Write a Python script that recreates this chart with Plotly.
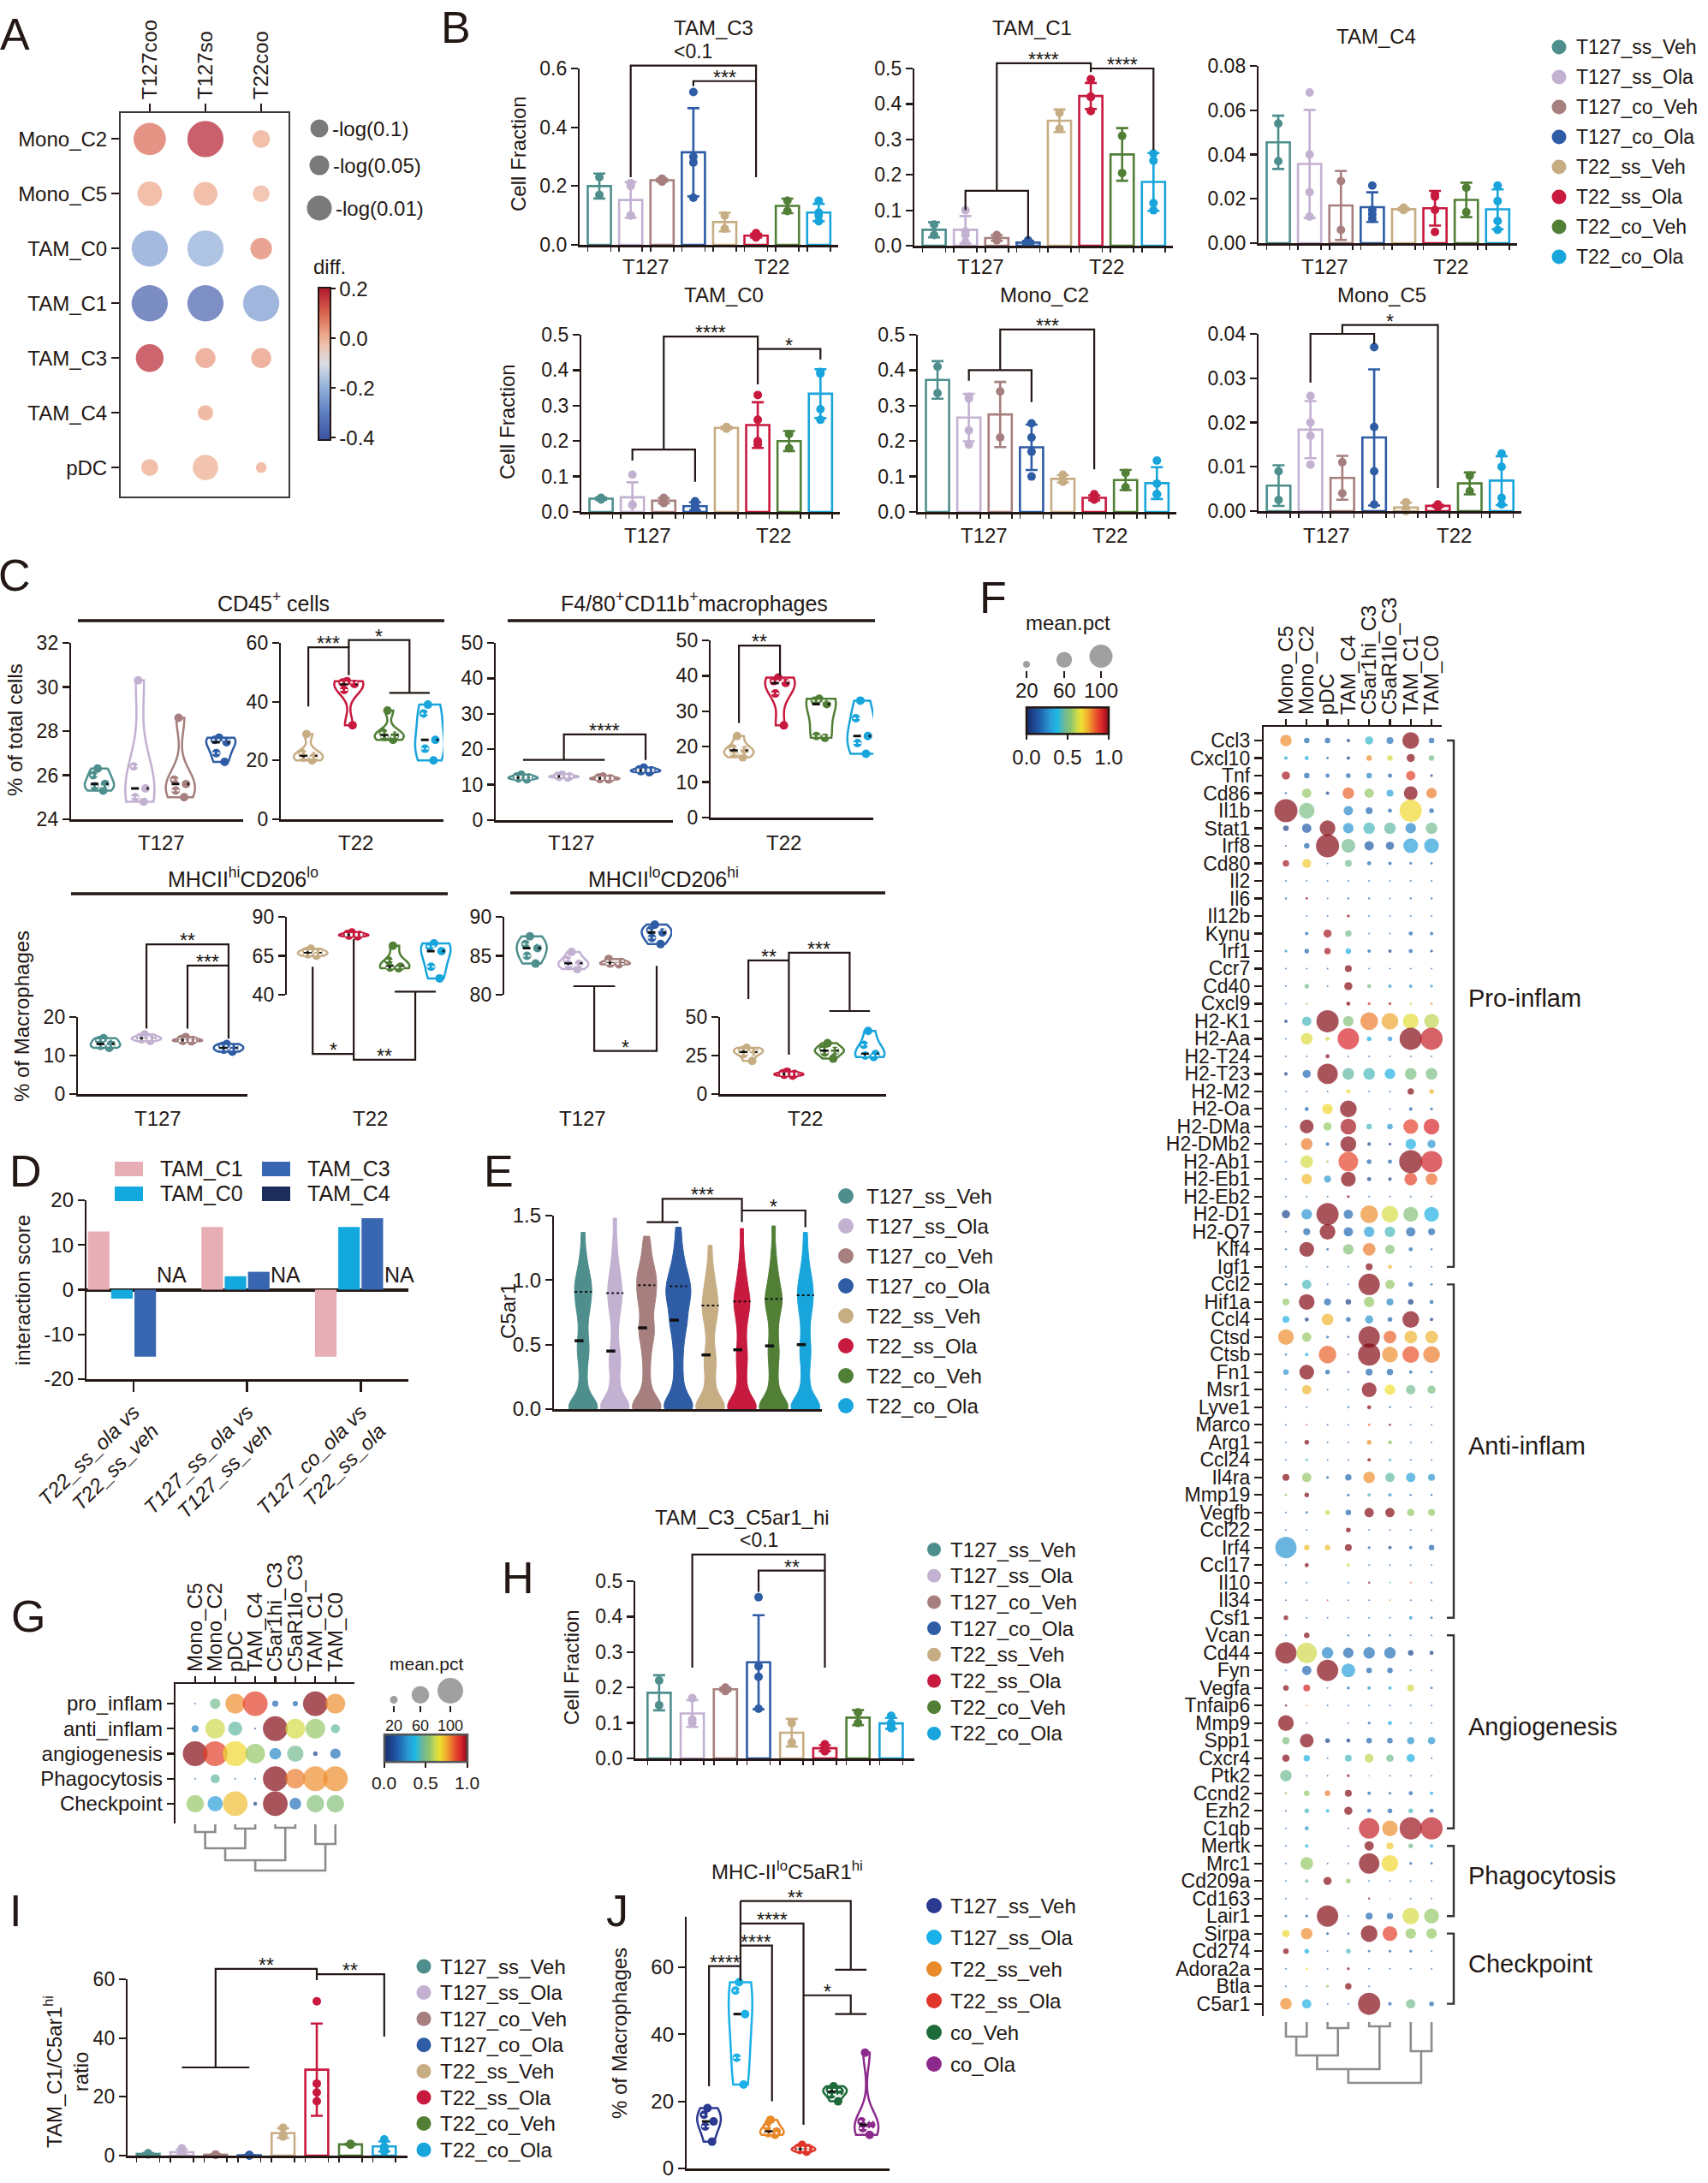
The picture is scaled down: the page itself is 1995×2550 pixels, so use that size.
import numpy as np
import plotly.graph_objects as go

W, H = 1995, 2550
FONT = "Liberation Sans, Arial, Helvetica, sans-serif"
INK = "#231815"

# ============================ DATA ============================
GROUPS = ["T127_ss_Veh", "T127_ss_Ola", "T127_co_Veh", "T127_co_Ola",
          "T22_ss_Veh", "T22_ss_Ola", "T22_co_Veh", "T22_co_Ola"]
GROUP_COLORS = ["#4E8F8E", "#C3B1D1", "#A67F7E", "#2E5CA5",
                "#C7AD84", "#C8193F", "#517F36", "#18A5DC"]
TUMOR_LABELS = ["T127", "T22"]

# ---- Panel A ----
A_clusters = ["Mono_C2", "Mono_C5", "TAM_C0", "TAM_C1", "TAM_C3", "TAM_C4", "pDC"]
A_contrasts = ["T127coo", "T127so", "T22coo"]
A_diff = [[0.10, 0.20, 0.02], [0.02, 0.02, 0.00], [-0.24, -0.21, 0.07],
          [-0.38, -0.37, -0.25], [0.19, 0.04, 0.04], [None, 0.03, None], [0.02, 0.01, 0.02]]
A_neglogp = [[4.2, 4.7, 2.3], [3.2, 3.1, 2.2], [4.7, 4.7, 2.8],
             [4.7, 4.7, 4.7], [3.6, 2.6, 2.6], [None, 2.0, None], [2.2, 3.3, 1.4]]
A_legend_labels = ["-log(0.1)", "-log(0.05)", "-log(0.01)"]

# ---- Panel B (cell fractions per sample) ----
B_TAM_C3 = [[0.23, 0.17], [0.21, 0.20, 0.10, 0.10], [0.225, 0.22, 0.215], [0.52, 0.30, 0.28, 0.16],
            [0.10, 0.055], [0.04, 0.03, 0.025, 0.03], [0.15, 0.115], [0.15, 0.11, 0.10, 0.08]]
B_TAM_C1 = [[0.06, 0.03], [0.10, 0.04, 0.03, 0.01], [0.03, 0.02, 0.015], [0.015, 0.01, 0.005, 0.005],
            [0.375, 0.33], [0.47, 0.42, 0.42, 0.38], [0.31, 0.205], [0.26, 0.24, 0.12, 0.10]]
B_TAM_C4 = [[0.054, 0.037], [0.068, 0.040, 0.023, 0.012], [0.028, 0.006], [0.026, 0.015, 0.013, 0.011],
            [0.016, 0.015, 0.015], [0.022, 0.021, 0.015, 0.005], [0.025, 0.014], [0.026, 0.019, 0.010, 0.006]]
B_TAM_C0 = [[0.04, 0.035], [0.105, 0.02, 0.02, 0.02], [0.04, 0.03, 0.025], [0.03, 0.02, 0.01, 0.005],
            [0.24, 0.235], [0.33, 0.26, 0.20, 0.19], [0.22, 0.18], [0.395, 0.39, 0.29, 0.26]]
B_Mono_C2 = [[0.41, 0.335], [0.325, 0.32, 0.23, 0.19], [0.34, 0.21], [0.25, 0.21, 0.17, 0.10],
             [0.105, 0.09, 0.085], [0.05, 0.04, 0.035, 0.035], [0.11, 0.07], [0.145, 0.08, 0.05, 0.05]]
B_Mono_C5 = [[0.009, 0.0025], [0.026, 0.020, 0.017, 0.0105], [0.011, 0.004], [0.037, 0.019, 0.009, 0.0015],
             [0.002, 0.0005, 0.0], [0.0015, 0.0012, 0.001, 0.001], [0.008, 0.0045], [0.013, 0.010, 0.003, 0.0015]]

# ---- Panel C (flow cytometry, %) ----
C_CD45_T127 = [[26.3, 26.0, 25.6, 25.5, 25.3], [30.3, 26.4, 25.4, 25.0, 24.8],
               [28.6, 25.8, 25.6, 25.3, 25.0], [27.7, 27.6, 27.5, 27.0, 26.6]]
C_CD45_T22 = [[29, 22.5, 21.5, 21, 20], [47, 46.5, 46, 44, 32], [37, 29.5, 28.5, 28, 27], [39, 36, 27, 24, 20]]
C_F480_T127 = [[12.8, 12.3, 12.0, 11.8, 11.5], [12.8, 12.5, 12.3, 12.2, 12.0],
               [12.3, 12.0, 11.8, 11.6, 11.5], [14.8, 14.3, 14.0, 13.8, 13.5]]
C_F480_T22 = [[23, 19.5, 19, 18, 17], [39.5, 38.5, 38, 35, 26], [33.5, 33, 32, 23, 22.5], [33, 28, 23, 21, 18]]
C_MHChi_T127 = [[14.5, 14, 13, 12.5, 12], [15.5, 14.8, 14.5, 14.2, 13.8],
                [14.8, 14.3, 14, 13.8, 13.7], [13, 12.5, 12, 11.5, 11]]
C_MHChi_T22 = [[69.5, 68, 67, 66, 65], [80, 79, 78.5, 78, 77.5], [71.5, 62, 58, 57.5, 57], [73, 71, 68, 58, 50.5]]
C_MHClo_T127 = [[87.5, 86.5, 86, 85, 84], [85.5, 84.5, 84, 83.8, 83.3], [84.6, 84.2, 84, 83.9], [89, 88.3, 88, 87.3, 86.5]]
C_MHClo_T22 = [[30, 28.5, 27.5, 26, 21.5], [14.5, 13.5, 13, 12.5, 12], [33, 29.5, 28, 27, 23], [41, 32, 26, 25, 24]]

# ---- Panel D ----
D_comparisons = ["T22_ss_ola vs<br>T22_ss_veh", "T127_ss_ola vs<br>T127_ss_veh", "T127_co_ola vs<br>T22_ss_ola"]
D_series = ["TAM_C1", "TAM_C0", "TAM_C3", "TAM_C4"]
D_colors = ["#E8AEB5", "#14A9DE", "#3866B0", "#1C2D5C"]
D_TAM_C1 = [13, 14, -15]
D_TAM_C0 = [-2, 3, 14]
D_TAM_C3 = [-15, 4, 16]
D_TAM_C4 = [None, None, None]

# ---- Panel E (C5ar1 expression; representative sorted cell values per group) ----
E_C5ar1 = [
    [0, 0, 0, 0, 0, 0.01, 0.02, 0.05, 0.1, 0.18, 0.26, 0.34, 0.41, 0.46, 0.5, 0.56, 0.63, 0.7, 0.76, 0.8,
     0.84, 0.88, 0.92, 0.95, 0.98, 1.02, 1.07, 1.13, 1.22, 1.37],
    [0, 0, 0, 0, 0, 0.01, 0.02, 0.04, 0.08, 0.14, 0.2, 0.27, 0.33, 0.38, 0.42, 0.48, 0.57, 0.66, 0.73, 0.79,
     0.83, 0.87, 0.91, 0.95, 0.99, 1.04, 1.1, 1.18, 1.3, 1.48],
    [0, 0, 0, 0, 0.01, 0.02, 0.05, 0.1, 0.18, 0.28, 0.38, 0.46, 0.53, 0.58, 0.61, 0.65, 0.71, 0.77, 0.82, 0.86,
     0.89, 0.93, 0.97, 1.0, 1.03, 1.07, 1.11, 1.17, 1.25, 1.34],
    [0, 0, 0, 0.01, 0.02, 0.05, 0.1, 0.16, 0.24, 0.33, 0.42, 0.5, 0.57, 0.63, 0.67, 0.71, 0.76, 0.8, 0.84, 0.87,
     0.9, 0.93, 0.96, 0.99, 1.03, 1.07, 1.12, 1.19, 1.28, 1.41],
    [0, 0, 0, 0, 0, 0.01, 0.02, 0.04, 0.08, 0.13, 0.19, 0.25, 0.31, 0.36, 0.4, 0.44, 0.52, 0.6, 0.66, 0.71,
     0.75, 0.78, 0.81, 0.85, 0.89, 0.93, 0.98, 1.04, 1.13, 1.27],
    [0, 0, 0, 0, 0, 0.01, 0.02, 0.04, 0.08, 0.14, 0.2, 0.27, 0.33, 0.39, 0.43, 0.49, 0.56, 0.63, 0.69, 0.74,
     0.78, 0.82, 0.84, 0.88, 0.92, 0.97, 1.03, 1.1, 1.22, 1.4],
    [0, 0, 0, 0, 0, 0.01, 0.02, 0.04, 0.09, 0.15, 0.22, 0.29, 0.36, 0.42, 0.46, 0.52, 0.59, 0.66, 0.72, 0.77,
     0.81, 0.84, 0.86, 0.9, 0.94, 0.99, 1.05, 1.12, 1.24, 1.42],
    [0, 0, 0, 0, 0, 0.01, 0.02, 0.04, 0.09, 0.15, 0.22, 0.3, 0.37, 0.43, 0.47, 0.53, 0.6, 0.67, 0.73, 0.78,
     0.82, 0.86, 0.89, 0.93, 0.97, 1.01, 1.06, 1.13, 1.23, 1.37],
]

# ---- Panel F ----
F_clusters = ["Mono_C5", "Mono_C2", "pDC", "TAM_C4", "C5ar1hi_C3", "C5aR1lo_C3", "TAM_C1", "TAM_C0"]
F_genes = ["Ccl3", "Cxcl10", "Tnf", "Cd86", "Il1b", "Stat1", "Irf8", "Cd80", "Il2", "Il6", "Il12b", "Kynu",
           "Irf1", "Ccr7", "Cd40", "Cxcl9", "H2-K1", "H2-Aa", "H2-T24", "H2-T23", "H2-M2", "H2-Oa", "H2-DMa",
           "H2-DMb2", "H2-Ab1", "H2-Eb1", "H2-Eb2", "H2-D1", "H2-Q7", "Klf4", "Igf1",
           "Ccl2", "Hif1a", "Ccl4", "Ctsd", "Ctsb", "Fn1", "Msr1", "Lyve1", "Marco", "Arg1", "Ccl24", "Il4ra",
           "Mmp19", "Vegfb", "Ccl22", "Irf4", "Ccl17", "Il10", "Il34", "Csf1",
           "Vcan", "Cd44", "Fyn", "Vegfa", "Tnfaip6", "Mmp9", "Spp1", "Cxcr4", "Ptk2", "Ccnd2", "Ezh2", "C1qb",
           "Mertk", "Mrc1", "Cd209a", "Cd163", "Lair1", "Sirpa", "Cd274", "Adora2a", "Btla", "C5ar1"]
F_expr = [
    [.78, .18, .18, .08, .40, .20, 1.0, .18], [.33, .35, .18, .08, .78, .62, 1.0, .48],
    [.97, .18, .18, .18, .25, .15, .88, .08], [.18, .55, .08, .83, .55, .30, 1.0, .80],
    [1.0, .50, .18, .25, .18, .18, .68, .18], [.08, .15, 1.0, .28, .42, .45, .25, .48],
    [.08, .18, 1.0, .48, .15, .15, .30, .30], [.97, .70, .18, .48, .18, .18, .18, .18],
    [.18, .18, .18, .18, .18, .18, .18, .18], [.18, 1.0, .18, .18, .18, .18, .18, .18],
    [.18, .18, .18, 1.0, .18, .18, .18, .18], [.18, .18, .97, .48, .18, .18, .18, .18],
    [.28, .18, .97, .35, .18, .08, .18, .08], [.18, .18, .18, 1.0, .18, .18, .18, .18],
    [.18, .48, .18, 1.0, .50, .28, .28, .28], [.18, .55, .18, 1.0, .90, .97, .62, .78],
    [.08, .42, 1.0, .52, .80, .75, .65, .60], [.18, .64, .62, .92, .35, .28, 1.0, .94],
    [.18, .18, 1.0, .18, .18, .18, .18, .18], [.08, .18, 1.0, .45, .42, .35, .50, .50],
    [.18, .18, .18, .68, .18, .18, 1.0, .73], [.18, .18, .68, 1.0, .18, .18, .18, .18],
    [.18, 1.0, .55, .97, .42, .28, .88, .92], [.18, .80, .18, 1.0, .08, .08, .35, .28],
    [.18, .63, .55, .87, .18, .18, 1.0, .93], [.18, .72, .28, 1.0, .08, .08, .87, .82],
    [.18, .18, .18, 1.0, .18, .18, .18, .18], [.08, .28, 1.0, .18, .78, .63, .52, .35],
    [.18, .18, 1.0, .18, .30, .42, .18, .18], [.18, 1.0, .18, .52, .80, .52, .18, .18],
    [.18, .18, .18, .18, 1.0, .73, .18, .18],
    [.18, .42, .18, .18, 1.0, .55, .18, .18], [.55, 1.0, .18, .08, .55, .25, .08, .18],
    [.35, .08, .73, .18, .28, .18, 1.0, .08], [.78, .55, .18, .08, 1.0, .83, .73, .73],
    [.18, .35, .83, .18, 1.0, .78, .85, .80], [.28, 1.0, .18, .08, .18, .18, .18, .18],
    [.18, .73, .18, .18, 1.0, .67, .48, .50], [.18, .18, .18, .18, 1.0, .18, .18, .18],
    [.18, .88, .18, .18, .83, 1.0, .18, .18], [.18, 1.0, .18, .18, .78, .55, .18, .18],
    [.18, .42, .18, .18, 1.0, .42, .18, .18], [1.0, .55, .18, .18, .78, .45, .30, .28],
    [.55, 1.0, .18, .18, .42, .28, .18, .18], [.18, .18, .62, .18, 1.0, 1.0, .55, .55],
    [.18, .18, .18, 1.0, .18, .18, .18, .18], [.28, .72, .72, 1.0, .18, .08, .18, .18],
    [.18, 1.0, .18, .62, .18, .18, .18, .18], [.18, .18, .18, .18, 1.0, .42, .83, .18],
    [.18, .18, .88, .18, .18, .78, .18, .18], [1.0, .18, .18, .18, .18, .18, .28, .18],
    [.18, 1.0, .18, .18, .18, .18, .18, .18], [1.0, .62, .25, .18, .20, .20, .08, .08],
    [.18, .18, 1.0, .30, .18, .18, .18, .18], [1.0, .93, .18, .18, .28, .35, .62, .18],
    [1.0, .78, .18, .18, .18, .18, .18, .18], [1.0, .18, .18, .18, .18, .35, .18, .18],
    [.50, 1.0, .08, .08, .18, .18, .28, .28], [1.0, .35, .18, .42, .60, .48, .35, .08],
    [.47, .18, .18, 1.0, .55, .18, .18, .18], [.55, .55, .80, 1.0, .18, .08, .18, .35],
    [.08, .42, .35, 1.0, .18, .18, .42, .18], [.18, .28, .18, .18, .94, .78, .98, .95],
    [.18, .35, .18, .18, 1.0, .70, .48, .35], [.18, .55, .18, .18, 1.0, .68, .18, .18],
    [.18, .48, 1.0, .55, .18, .18, .18, .18], [.18, .18, .18, .18, 1.0, .55, .18, .18],
    [.18, .18, 1.0, .18, .18, .18, .63, .55], [.68, .78, .18, .08, 1.0, .88, .55, .55],
    [1.0, .35, .18, .42, .18, .18, .18, .18], [.18, .68, .18, 1.0, .18, .18, .18, .18],
    [.18, .18, .55, 1.0, .18, .18, .18, .18], [.78, .35, .18, .18, 1.0, .18, .48, .18],
]
F_pct = [
    [40, 15, 15, 8, 25, 20, 65, 15], [8, 10, 5, 8, 15, 15, 25, 15], [25, 15, 10, 12, 15, 10, 30, 6],
    [4, 30, 8, 40, 30, 20, 50, 35], [100, 60, 0, 30, 20, 10, 95, 12], [15, 30, 60, 35, 40, 40, 35, 40],
    [2, 15, 100, 50, 30, 25, 55, 55], [18, 28, 2, 20, 10, 8, 6, 5], [1, 1, 2, 1, 1, 1, 1, 1],
    [4, 5, 2, 4, 4, 3, 4, 4], [0, 1, 1, 6, 2, 1, 2, 1], [0, 8, 25, 18, 1, 1, 10, 8],
    [6, 12, 18, 15, 8, 8, 10, 6], [1, 2, 2, 20, 1, 1, 1, 1], [2, 12, 1, 25, 10, 8, 8, 6],
    [2, 4, 0, 10, 6, 6, 5, 5], [8, 30, 95, 35, 70, 65, 60, 55], [1, 40, 10, 90, 12, 12, 95, 95],
    [2, 2, 10, 2, 3, 2, 2, 2], [8, 25, 85, 40, 40, 35, 40, 40], [1, 2, 1, 10, 2, 1, 18, 12],
    [2, 10, 35, 65, 0, 1, 8, 6], [2, 50, 25, 60, 15, 15, 55, 60], [2, 40, 8, 60, 8, 6, 35, 25],
    [1, 45, 5, 80, 12, 10, 100, 90], [3, 35, 20, 55, 10, 8, 45, 40], [1, 1, 1, 6, 1, 1, 1, 1],
    [25, 35, 95, 30, 70, 65, 55, 55], [1, 20, 60, 30, 35, 35, 30, 20], [4, 55, 5, 35, 45, 30, 10, 4],
    [1, 1, 1, 1, 20, 10, 1, 1],
    [5, 30, 2, 2, 90, 30, 12, 5], [20, 60, 20, 15, 35, 20, 15, 10], [20, 10, 40, 12, 25, 12, 65, 8],
    [60, 30, 6, 4, 90, 45, 45, 45], [4, 8, 70, 2, 95, 60, 65, 65], [15, 55, 12, 4, 20, 18, 8, 5],
    [1, 30, 1, 2, 55, 35, 30, 25], [1, 2, 0, 4, 10, 4, 2, 2], [3, 3, 2, 3, 5, 5, 2, 3],
    [2, 12, 2, 2, 12, 10, 3, 3], [2, 5, 1, 3, 8, 6, 2, 2], [20, 30, 6, 18, 40, 30, 30, 20],
    [5, 12, 0, 6, 8, 8, 4, 4], [1, 5, 12, 15, 30, 30, 22, 20], [1, 1, 0, 12, 1, 1, 1, 1],
    [90, 15, 15, 20, 6, 8, 8, 15], [2, 10, 0, 8, 1, 1, 1, 1], [1, 1, 0, 1, 4, 2, 3, 1],
    [1, 1, 2, 1, 1, 3, 1, 1], [12, 3, 2, 2, 3, 3, 8, 5],
    [2, 15, 0, 4, 4, 4, 3, 3], [90, 85, 40, 35, 40, 40, 15, 10], [1, 30, 90, 50, 15, 15, 3, 2],
    [15, 20, 1, 6, 8, 8, 20, 5], [4, 2, 1, 1, 1, 1, 1, 1], [60, 2, 0, 1, 6, 10, 1, 1],
    [22, 50, 12, 10, 15, 15, 22, 22], [22, 18, 3, 20, 28, 22, 25, 3], [40, 1, 2, 6, 2, 2, 1, 1],
    [5, 15, 15, 20, 8, 5, 10, 8], [3, 12, 8, 25, 10, 12, 12, 10], [1, 10, 0, 1, 85, 60, 95, 95],
    [1, 8, 0, 1, 30, 20, 12, 8], [1, 45, 1, 2, 85, 65, 6, 5], [2, 8, 25, 12, 1, 2, 1, 1],
    [1, 1, 0, 0, 4, 2, 1, 1], [5, 6, 90, 2, 20, 18, 65, 55],
    [22, 40, 6, 4, 65, 55, 35, 35], [15, 12, 2, 12, 5, 6, 6, 3], [1, 5, 1, 6, 2, 3, 2, 2],
    [1, 1, 6, 18, 1, 0, 0, 0], [40, 30, 1, 1, 95, 8, 30, 12],
]
F_modules = [("Pro-inflam", "Ccl3", "Igf1"), ("Anti-inflam", "Ccl2", "Csf1"),
             ("Angiogenesis", "Vcan", "C1qb"), ("Phagocytosis", "Mertk", "Lair1"),
             ("Checkpoint", "Sirpa", "C5ar1")]
F_legend_pct = [20, 60, 100]

# ---- Panel G ----
G_modules = ["pro_inflam", "anti_inflam", "angiogenesis", "Phagocytosis", "Checkpoint"]
G_expr = [[.18, .48, .78, .88, .18, .18, 1.0, .78],
          [.25, .62, .45, .08, 1.0, .63, .55, .45],
          [1.0, .88, .68, .55, .25, .48, .08, .20],
          [.18, .45, .18, .18, 1.0, .80, .78, .78],
          [.55, .30, .72, .08, 1.0, .20, .52, .52]]
G_pct = [[2, 30, 70, 95, 15, 12, 95, 70],
         [18, 70, 45, 3, 95, 70, 70, 25],
         [95, 95, 95, 70, 35, 55, 10, 30],
         [2, 25, 2, 2, 95, 70, 95, 95],
         [60, 50, 95, 8, 95, 35, 60, 60]]

# ---- Panel H ----
H_TAM_C3_C5ar1_hi = [[0.22, 0.15], [0.17, 0.11, 0.10], [0.20, 0.195, 0.19], [0.455, 0.26, 0.23, 0.14],
                     [0.10, 0.045], [0.04, 0.03, 0.025, 0.02], [0.13, 0.10], [0.12, 0.10, 0.09, 0.085]]
# ---- Panel I ----
I_ratio = [[0.8, 0.4], [2.5, 1.0, 0.6, 0.5], [0.4, 0.3, 0.2], [0.2, 0.1, 0.1, 0.1],
           [9.5, 7.0, 6.5], [52.5, 24.5, 21.5, 18.5], [4.0, 3.8, 3.7], [5.5, 3.0, 2.5, 1.5]]
# ---- Panel J ----
J_groups = ["T127_ss_Veh", "T127_ss_Ola", "T22_ss_veh", "T22_ss_Ola", "co_Veh", "co_Ola"]
J_colors = ["#2B3990", "#1AB0E8", "#E8892A", "#E0352A", "#1E6B3A", "#8B2A8B"]
J_values = [[18, 16, 14, 12.5, 8], [55.5, 53, 46, 33, 25], [14.5, 12.5, 11, 10.5, 10],
            [7, 6.2, 5.8, 5.5, 5], [24.5, 23.5, 23, 22, 20], [34.5, 14, 13, 12, 10]]

# ============================ HELPERS ============================
traces, shapes, annots = [], [], []
layout_axes = {}
AXES = []

A_SCALE = [[0, '#3b4fa0'], [0.18, '#5d7fc2'], [0.344, '#93b1da'], [0.5, '#d9dde5'],
           [0.62, '#ecc2ad'], [0.69, '#eda88a'], [0.84, '#d6604d'], [1, '#b2182b']]
JET = [[0, '#1a2a6c'], [0.15, '#1f5aa8'], [0.3, '#2a9fd8'], [0.37, '#1ab8e6'], [0.46, '#6cb89a'],
       [0.54, '#8cc46c'], [0.61, '#c8d850'], [0.67, '#f0e030'], [0.76, '#f0a030'], [0.85, '#e8502a'],
       [0.92, '#d9252b'], [1, '#850b16']]


def axis_style(**kw):
    d = dict(showgrid=False, zeroline=False, showline=False, ticks='', showticklabels=False,
             linecolor=INK, linewidth=2.2, tickcolor=INK, tickwidth=2.2, ticklen=8, automargin=False,
             tickfont=dict(family=FONT, size=23, color=INK), fixedrange=True)
    d.update(kw)
    return d


class Ax:
    def __init__(self, x0, x1, y0, y1, xr, yr, xkw=None, ykw=None):
        AXES.append(self)
        n = len(AXES)
        self.xid = 'x' if n == 1 else f'x{n}'
        self.yid = 'y' if n == 1 else f'y{n}'
        self.x0, self.x1, self.y0, self.y1 = x0, x1, y0, y1
        self.xr, self.yr = xr, yr
        xa = axis_style(domain=[x0 / W, x1 / W], range=xr, anchor=self.yid)
        ya = axis_style(domain=[1 - y1 / H, 1 - y0 / H], range=yr, anchor=self.xid)
        xa.update(xkw or {})
        ya.update(ykw or {})
        layout_axes['xaxis' if n == 1 else f'xaxis{n}'] = xa
        layout_axes['yaxis' if n == 1 else f'yaxis{n}'] = ya

    def X(self, v):
        return self.x0 + (v - self.xr[0]) / (self.xr[1] - self.xr[0]) * (self.x1 - self.x0)

    def Y(self, v):
        return self.y1 - (v - self.yr[0]) / (self.yr[1] - self.yr[0]) * (self.y1 - self.y0)

    def kw(self):
        return dict(xaxis=self.xid, yaxis=self.yid)


def T(x, y, text, size=24, xanchor='center', yanchor='middle', angle=0, color=INK, **kw):
    annots.append(dict(x=x / W, y=1 - y / H, xref='paper', yref='paper', text=text, showarrow=False,
                       xanchor=xanchor, yanchor=yanchor, textangle=angle,
                       font=dict(family=FONT, size=size, color=color), **kw))


def poly(pts, color=INK, width=2.2, dash='solid'):
    d = ' '.join(('M' if i == 0 else 'L') + f'{x / W:.5f},{1 - y / H:.5f}' for i, (x, y) in enumerate(pts))
    shapes.append(dict(type='path', path=d, xref='paper', yref='paper', layer='above',
                       line=dict(color=color, width=width, dash=dash)))


def circle(xc, yc, d, color):
    r = d / 2
    shapes.append(dict(type='circle', xref='paper', yref='paper', x0=(xc - r) / W, x1=(xc + r) / W,
                       y0=1 - (yc + r) / H, y1=1 - (yc - r) / H, fillcolor=color, line=dict(width=0)))


def rect(x0, y0, x1, y1, color):
    shapes.append(dict(type='rect', xref='paper', yref='paper', x0=x0 / W, x1=x1 / W,
                       y0=1 - y1 / H, y1=1 - y0 / H, fillcolor=color, line=dict(width=0)))


def bracket(pts, label=None, at=None, size=23, star=True):
    poly([(a.X(x), a.Y(y)) for a, x, y in pts], width=2.2)
    if label:
        a, x, y = at
        if star:
            T(a.X(x), a.Y(y) - 4, label, size=size, yanchor='middle')
        else:
            T(a.X(x), a.Y(y) - 2, label, size=size, yanchor='bottom')


def ticks_fmt(vals, fmt):
    return dict(tickvals=vals, ticktext=[fmt.format(v) for v in vals])


def gp_y(vals, fmt, size=23):
    d = dict(showline=True, ticks='outside', showticklabels=True, tickfont=dict(family=FONT, size=size, color=INK))
    d.update(ticks_fmt(vals, fmt))
    return d


def bar_panel(ax, data, colors, width):
    for i, (pts, c) in enumerate(zip(data, colors)):
        pts = np.asarray(pts, float)
        m = pts.mean()
        sd = pts.std(ddof=1) if len(pts) > 1 else 0.0
        traces.append(go.Bar(x=[i], y=[m], width=width,
                             marker=dict(color='rgba(255,255,255,0)', line=dict(color=c, width=2.6)),
                             error_y=dict(type='data', array=[sd], arrayminus=[sd], color=c, thickness=2.6, width=7),
                             hoverinfo='skip', **ax.kw()))
        traces.append(go.Scatter(x=[i] * len(pts), y=pts, mode='markers', cliponaxis=False,
                                 marker=dict(color=c, size=10), hoverinfo='skip', **ax.kw()))


def bar_axes(x0, x1, y0, y1, xr, ymax, yt, fmt, width):
    edges = sorted([i - width / 2 for i in range(8)] + [i + width / 2 for i in range(8)])
    return Ax(x0, x1, y0, y1, xr, [0, ymax],
              xkw=dict(showline=True, linewidth=3.4, ticks='outside', ticklen=5, tickwidth=1.6, tickvals=edges),
              ykw=gp_y(yt, fmt))


def violin(ax, i, vals, color, width=0.72, fill='rgba(255,255,255,0)', points=True, bw=None, lw=2.5,
           qcolor=None, msize=10, q1line=True, mwidth=3):
    vals = np.asarray(vals, float)
    kw = dict(x=[i] * len(vals), y=vals, width=width, line=dict(color=color, width=lw), fillcolor=fill,
              spanmode='hard', hoverinfo='skip', showlegend=False)
    if points:
        kw.update(points='all', pointpos=0, jitter=0.5, marker=dict(color=color, size=msize))
    else:
        kw.update(points=False)
    if bw:
        kw['bandwidth'] = bw
    traces.append(go.Violin(**kw, **ax.kw()))
    med = float(np.median(vals))
    q1, q3 = np.percentile(vals, [25, 75])
    h = width * 0.3
    traces.append(go.Scatter(x=[i - h, i + h], y=[med, med], mode='lines', hoverinfo='skip',
                             line=dict(color='#111111', width=mwidth, dash='dash'), **ax.kw()))
    for q in ((q1, q3) if q1line else (q3,)):
        traces.append(go.Scatter(x=[i - h, i + h], y=[q, q], mode='lines', hoverinfo='skip',
                                 line=dict(color=qcolor or color, width=2, dash='dot'), **ax.kw()))


def dendro(ax, merges, leaf_y, color='#8c8c8c', width=2.6):
    nodes = {i: (ax.X(i), leaf_y) for i in range(8)}
    k = 8
    for a, b, h in merges:
        xa, ya = nodes[a]
        xb, yb = nodes[b]
        poly([(xa, ya), (xa, h), (xb, h), (xb, yb)], color=color, width=width)
        nodes[k] = ((xa + xb) / 2, h)
        k += 1


def legend_list(x, y0, dy, labels, colors, d=17, size=24, gap=18):
    for k, (lab, c) in enumerate(zip(labels, colors)):
        circle(x, y0 + k * dy, d, c)
        T(x + gap, y0 + k * dy, lab, size=size, xanchor='left')


# Panel letters
for letter, (lx, ly) in {"A": (17, 40), "B": (532, 32), "C": (17, 672), "D": (30, 1368), "E": (582, 1368),
                         "F": (1160, 698), "G": (33, 1888), "H": (605, 1843), "I": (18, 2232), "J": (721, 2232)}.items():
    T(lx, ly, letter, size=52)

# ============================ PANEL A ============================
axA = Ax(141, 337, 132, 580, [-0.52, 2.49], [6.53, -0.475],
         xkw=dict(side='top', showline=True, mirror=True, linecolor='#3a3a3a', linewidth=2, ticks='outside',
                  ticklen=9, tickvals=list(range(len(A_contrasts))), ticktext=A_contrasts, showticklabels=True,
                  tickangle=-90, tickfont=dict(family=FONT, size=24, color=INK)),
         ykw=dict(showline=True, mirror=True, linecolor='#3a3a3a', linewidth=2, ticks='outside', ticklen=9,
                  tickvals=list(range(len(A_clusters))), ticktext=A_clusters, showticklabels=True,
                  tickfont=dict(family=FONT, size=24, color=INK)))
ax_x, ax_y, ax_c, ax_s = [], [], [], []
for r in range(len(A_clusters)):
    for c in range(len(A_contrasts)):
        if A_diff[r][c] is None:
            continue
        ax_x.append(c)
        ax_y.append(r)
        ax_c.append(A_diff[r][c])
        ax_s.append(9 * A_neglogp[r][c])
traces.append(go.Scatter(
    x=ax_x, y=ax_y, mode='markers', hoverinfo='skip', cliponaxis=False,
    marker=dict(size=ax_s, sizemode='diameter', color=ax_c, colorscale=A_SCALE, cmin=-0.41, cmax=0.205,
                line=dict(width=0), showscale=True,
                colorbar=dict(x=372 / W, xanchor='left', y=1 - 425 / H, yanchor='middle', len=178, lenmode='pixels',
                              thickness=14, thicknessmode='pixels', xpad=0, ypad=0, outlinewidth=2, outlinecolor=INK,
                              tickvals=[-0.4, -0.2, 0, 0.2], ticktext=['-0.4', '-0.2', '0.0', '0.2'],
                              ticks='outside', ticklen=5, tickcolor=INK, tickwidth=2,
                              tickfont=dict(family=FONT, size=24, color=INK))),
    **axA.kw()))
for k, (lab, d, yy) in enumerate(zip(A_legend_labels, [21, 23, 29], [150, 193, 243])):
    circle(373, yy, d, '#7a7a7a')
    T(373 + d / 2 + 2, yy, lab, size=24, xanchor='left')
T(364, 312, "diff.", size=24, xanchor='left')

# ============================ PANEL B ============================
B_XR = [-0.63, 7.62]
B_W = 0.74
B_specs = [
    ("TAM_C3", B_TAM_C3, 677, 979, 80, 286, 0.6, [0, 0.2, 0.4, 0.6], '{:.1f}', (833, 33), 312),
    ("TAM_C1", B_TAM_C1, 1068, 1370, 80, 287, 0.5, [0, 0.1, 0.2, 0.3, 0.4, 0.5], '{:.1f}', (1205, 33), 312),
    ("TAM_C4", B_TAM_C4, 1470, 1772, 77, 284, 0.08, [0, 0.02, 0.04, 0.06, 0.08], '{:.2f}', (1607, 42), 312),
    ("TAM_C0", B_TAM_C0, 679, 981, 391, 598, 0.5, [0, 0.1, 0.2, 0.3, 0.4, 0.5], '{:.1f}', (845, 345), 625),
    ("Mono_C2", B_Mono_C2, 1072, 1374, 391, 598, 0.5, [0, 0.1, 0.2, 0.3, 0.4, 0.5], '{:.1f}', (1220, 345), 625),
    ("Mono_C5", B_Mono_C5, 1470, 1777, 390, 597, 0.04, [0, 0.01, 0.02, 0.03, 0.04], '{:.2f}', (1614, 345), 625),
]
B_ax = {}
for title, data, x0, x1, y0, y1, ymax, yt, fmt, (tx, ty), gy in B_specs:
    ax = bar_axes(x0, x1, y0, y1, B_XR, ymax, yt, fmt, B_W)
    B_ax[title] = ax
    bar_panel(ax, data, GROUP_COLORS, B_W)
    T(tx, ty, title, size=24)
    T(ax.X(1.5), gy, TUMOR_LABELS[0], size=24)
    T(ax.X(5.5), gy, TUMOR_LABELS[1], size=24)
T(606, 180, "Cell Fraction", size=24, angle=-90)
T(592, 493, "Cell Fraction", size=24, angle=-90)
legend_list(1821, 55, 35, GROUPS, GROUP_COLORS, d=17, size=23, gap=18)

a = B_ax["TAM_C3"]
bracket([(a, 1, 0.23), (a, 1, 0.61), (a, 5, 0.61), (a, 5, 0.23)], "&lt;0.1", (a, 3, 0.61), star=False)
bracket([(a, 3, 0.54), (a, 3, 0.557), (a, 5, 0.557)], "***", (a, 4, 0.557))
a = B_ax["TAM_C1"]
bracket([(a, 1, 0.10), (a, 1, 0.155), (a, 3, 0.155), (a, 3, 0.02)])
bracket([(a, 2, 0.155), (a, 2, 0.515), (a, 5, 0.515), (a, 5, 0.49)], "****", (a, 3.5, 0.515))
bracket([(a, 5, 0.50), (a, 7, 0.50), (a, 7, 0.27)], "****", (a, 6, 0.50))
a = B_ax["TAM_C0"]
bracket([(a, 1, 0.145), (a, 1, 0.176), (a, 3, 0.176), (a, 3, 0.085)])
bracket([(a, 2, 0.176), (a, 2, 0.495), (a, 5, 0.495), (a, 5, 0.36)], "****", (a, 3.5, 0.495))
bracket([(a, 5, 0.46), (a, 7, 0.46), (a, 7, 0.43)], "*", (a, 6, 0.46))
a = B_ax["Mono_C2"]
bracket([(a, 1, 0.37), (a, 1, 0.40), (a, 3, 0.40), (a, 3, 0.31)])
bracket([(a, 2, 0.40), (a, 2, 0.515), (a, 5, 0.515), (a, 5, 0.12)], "***", (a, 3.5, 0.515))
a = B_ax["Mono_C5"]
bracket([(a, 1, 0.029), (a, 1, 0.040), (a, 3, 0.040), (a, 3, 0.0377)])
bracket([(a, 2, 0.040), (a, 2, 0.042), (a, 5, 0.042), (a, 5, 0.0052)], "*", (a, 3.5, 0.042))

# ============================ PANEL C ============================
def c_axes(x0, x1, y0, y1, xr, yr, yt, xline=True):
    return Ax(x0, x1, y0, y1, xr, yr, xkw=dict(showline=xline, linewidth=3), ykw=gp_y(yt, '{:g}'))


c1 = c_axes(83, 284, 751, 957, [-0.70, 3.55], [24, 32], [24, 26, 28, 30, 32])
c2 = c_axes(328, 518, 751, 957, [-0.68, 3.34], [0, 60], [0, 20, 40, 60])
c3 = c_axes(579, 786, 751, 958, [-0.67, 3.67], [0, 50], [0, 10, 20, 30, 40, 50])
c4 = c_axes(830, 1020, 748, 955, [-0.69, 3.27], [0, 50], [0, 10, 20, 30, 40, 50])
c5u = c_axes(91, 289, 1071, 1162, [-0.67, 3.46], [40, 90], [40, 65, 90], xline=False)
c5l = c_axes(91, 289, 1188, 1278, [-0.67, 3.46], [0, 20], [0, 10, 20])
c6u = c_axes(335, 533, 1071, 1162, [-0.63, 3.5], [40, 90], [40, 65, 90], xline=False)
c6l = c_axes(335, 533, 1188, 1278, [-0.63, 3.5], [0, 20], [0, 10, 20])
c7u = c_axes(589, 785, 1071, 1162, [-0.66, 3.37], [80, 90], [80, 85, 90], xline=False)
c7l = c_axes(589, 785, 1188, 1278, [-0.66, 3.37], [0, 50], [0, 25, 50])
c8u = c_axes(841, 1035, 1071, 1162, [-0.70, 3.4], [80, 90], [80, 85, 90], xline=False)
c8l = c_axes(841, 1035, 1188, 1278, [-0.70, 3.4], [0, 50], [0, 25, 50])

for ax, data, cols in [(c1, C_CD45_T127, GROUP_COLORS[:4]), (c2, C_CD45_T22, GROUP_COLORS[4:]),
                       (c3, C_F480_T127, GROUP_COLORS[:4]), (c4, C_F480_T22, GROUP_COLORS[4:]),
                       (c5l, C_MHChi_T127, GROUP_COLORS[:4]), (c6u, C_MHChi_T22, GROUP_COLORS[4:]),
                       (c7u, C_MHClo_T127, GROUP_COLORS[:4]), (c8l, C_MHClo_T22, GROUP_COLORS[4:])]:
    for i, (vals, col) in enumerate(zip(data, cols)):
        violin(ax, i, vals, col, width=0.72, qcolor='white')

T(319, 703, "CD45<sup>+</sup> cells", size=25)
poly([(91, 725), (519, 725)], width=3.5)
T(811, 703, "F4/80<sup>+</sup>CD11b<sup>+</sup>macrophages", size=25)
poly([(593, 725), (1022, 725)], width=3.5)
T(284, 1025, "MHCII<sup>hi</sup>CD206<sup>lo</sup>", size=25)
poly([(83, 1044), (523, 1044)], width=3.5)
T(775, 1025, "MHCII<sup>lo</sup>CD206<sup>hi</sup>", size=25)
poly([(596, 1043), (1034, 1043)], width=3.5)
for (x, lab) in [(188, "T127"), (415, "T22"), (667, "T127"), (915, "T22")]:
    T(x, 985, lab, size=24)
for (x, lab) in [(184, "T127"), (432, "T22"), (680, "T127"), (940, "T22")]:
    T(x, 1306, lab, size=24)
T(18, 853, "% of total cells", size=24, angle=-90)
T(25, 1187, "% of Macrophages", size=24, angle=-90)

bracket([(c2, 0, 38.4), (c2, 0, 58.5), (c2, 1, 58.5), (c2, 1, 49)], "***", (c2, 0.5, 58.5))
bracket([(c2, 1, 58.5), (c2, 1, 61), (c2, 2.5, 61), (c2, 2.5, 43)], "*", (c2, 1.75, 61))
bracket([(c2, 2, 43), (c2, 3, 43)])
bracket([(c3, 0, 17), (c3, 2, 17)])
bracket([(c3, 1, 17), (c3, 1, 24.2), (c3, 3, 24.2), (c3, 3, 17)], "****", (c3, 2, 24.2))
bracket([(c4, 0, 26.7), (c4, 0, 48.5), (c4, 1, 48.5), (c4, 1, 40)], "**", (c4, 0.5, 48.5))

bracket([(c5l, 1, 17), (c5u, 1, 72.4), (c5u, 3, 72.4), (c5l, 3, 14.4)], "**", (c5u, 2, 72.4))
bracket([(c5l, 2, 17), (c5u, 2, 58.7), (c5u, 3, 58.7)], "***", (c5u, 2.5, 58.7))
bracket([(c6u, 0, 58), (c6l, 0, 10.4), (c6l, 1, 10.4)], "*", (c6l, 0.5, 10.4))
bracket([(c6u, 1, 75.7), (c6l, 1, 8.9), (c6l, 2.5, 8.9), (c6u, 2.5, 42)], "**", (c6l, 1.75, 8.9))
bracket([(c6u, 2, 42), (c6u, 3, 42)])
bracket([(c7u, 1, 81.1), (c7u, 2, 81.1)])
bracket([(c7u, 1.5, 81.1), (c7l, 1.5, 28), (c7l, 3, 28), (c7u, 3, 83.7)], "*", (c7l, 2.25, 28))
bracket([(c8l, 0, 61.7), (c8u, 0, 84.4), (c8u, 1, 84.4)], "**", (c8u, 0.5, 84.4))
bracket([(c8l, 1, 25.5), (c8u, 1, 85.4), (c8u, 2.5, 85.4), (c8l, 2.5, 53.9)], "***", (c8u, 1.75, 85.4))
bracket([(c8l, 2, 53.9), (c8l, 3, 53.9)])

# ============================ PANEL D ============================
axD = Ax(101, 477, 1402, 1611, [-0.415, 2.42], [-20, 20],
         xkw=dict(showline=True, linewidth=3, ticks='outside', ticklen=12, tickwidth=2.5,
                  tickvals=list(range(len(D_comparisons))),
                  ticktext=[f"<i>{t}</i>" for t in D_comparisons], showticklabels=True, tickangle=-45,
                  tickfont=dict(family=FONT, size=24, color=INK)),
         ykw=dict(gp_y([-20, -10, 0, 10, 20], '{:g}', size=24), zeroline=True, zerolinewidth=4, zerolinecolor=INK))
D_OFF = 0.205
for k, (name, vals, col) in enumerate(zip(D_series, [D_TAM_C1, D_TAM_C0, D_TAM_C3, D_TAM_C4], D_colors)):
    xs = [g + (k - 1.5) * D_OFF for g in range(len(vals))]
    pairs = [(x, v) for x, v in zip(xs, vals) if v is not None]
    if pairs:
        traces.append(go.Bar(x=[p[0] for p in pairs], y=[p[1] for p in pairs], width=0.19,
                             marker=dict(color=col, line=dict(width=0)), hoverinfo='skip', **axD.kw()))
    for x, v in zip(xs, vals):
        if v is None:
            T(axD.X(x) + 4, axD.Y(0) - 2, "NA", size=25, yanchor='bottom')
for k, (name, col) in enumerate(zip(D_series, D_colors)):
    lx = 134 if k < 2 else 306
    ly = 1357 if k % 2 == 0 else 1386
    rect(lx, ly, lx + 33, ly + 17, col)
    T(lx + 51, ly + 8, name, size=25, xanchor='left')
T(26, 1507, "interaction score", size=24, angle=-90)

# ============================ PANEL E ============================
axE = Ax(647, 960, 1420, 1646, [-0.92, 7.52], [0, 1.5],
         xkw=dict(showline=True, linewidth=3),
         ykw=gp_y([0, 0.5, 1.0, 1.5], '{:.1f}', size=24))
for i, (vals, col) in enumerate(zip(E_C5ar1, GROUP_COLORS)):
    violin(axE, i, vals, col, width=0.9, fill=col, points=False, bw=0.075, lw=1, qcolor='#111111',
           q1line=False, mwidth=3.5)
T(593, 1532, "C5ar1", size=24, angle=-90)
legend_list(988, 1397, 35, GROUPS, GROUP_COLORS, d=18, size=24, gap=22)
bracket([(axE, 2, 1.45), (axE, 3, 1.45)])
bracket([(axE, 2.5, 1.45), (axE, 2.5, 1.63), (axE, 5, 1.63), (axE, 5, 1.45)], "***", (axE, 3.75, 1.63))
bracket([(axE, 5, 1.54), (axE, 7, 1.54), (axE, 7, 1.41)], "*", (axE, 6, 1.54))

# ============================ PANEL F ============================
def pct_to_d(p, dmax):
    return max(2.0, dmax * (p / 100.0) ** 0.75)


axF = Ax(1476, 1684, 849, 2355, [-1.07, 7.49], [72.7, -0.78],
         xkw=dict(side='top', showline=True, ticks='outside', ticklen=7, tickvals=list(range(len(F_clusters))),
                  ticktext=F_clusters, showticklabels=True, tickangle=-90,
                  tickfont=dict(family=FONT, size=24, color=INK)),
         ykw=dict(showline=True, ticks='outside', ticklen=9, tickvals=list(range(len(F_genes))),
                  ticktext=F_genes, showticklabels=True, tickfont=dict(family=FONT, size=23, color=INK)))
fx, fy, fc, fs = [], [], [], []
for r in range(len(F_genes)):
    for c in range(len(F_clusters)):
        if F_pct[r][c] <= 0:
            continue
        fx.append(c)
        fy.append(r)
        fc.append(F_expr[r][c])
        fs.append(pct_to_d(F_pct[r][c], 27))
traces.append(go.Scatter(
    x=fx, y=fy, mode='markers', hoverinfo='skip', cliponaxis=False,
    marker=dict(size=fs, sizemode='diameter', color=fc, colorscale=JET, cmin=0, cmax=1, line=dict(width=0),
                showscale=True,
                colorbar=dict(orientation='h', x=1247 / W, xanchor='center', y=1 - 863 / H, yanchor='middle',
                              len=96, lenmode='pixels', thickness=31, thicknessmode='pixels', xpad=0, ypad=0,
                              outlinewidth=2.5, outlinecolor=INK, tickvals=[0, 0.5, 1.0],
                              ticktext=['0.0', '0.5', '1.0'], ticks='outside', ticklen=6, tickcolor=INK, tickwidth=2,
                              tickfont=dict(family=FONT, size=24, color=INK))),
    **axF.kw()))
for name, g0, g1 in F_modules:
    yt, yb = axF.Y(F_genes.index(g0)), axF.Y(F_genes.index(g1))
    poly([(1690, yt), (1698, yt), (1698, yb), (1690, yb)], color='#333333', width=2.4)
    T(1713, (yt + yb) / 2 - 6, name, size=29, xanchor='left')
dendro(axF, [(0, 1, 2379), (2, 3, 2369), (4, 5, 2367), (6, 7, 2396), (8, 9, 2401), (12, 10, 2417), (13, 11, 2433)], 2362)
T(1247, 728, "mean.pct", size=24)
for xc, p in zip([1199, 1243, 1286], F_legend_pct):
    d = pct_to_d(p, 27)
    circle(xc, 780 - d / 2, d, '#a0a0a0')
    poly([(xc, 784), (xc, 792)], color=INK, width=2)
    T(xc, 806, str(p), size=24)

# ============================ PANEL G ============================
axG = Ax(205, 414, 1967, 2130, [-0.98, 7.95], [4.79, -0.79],
         xkw=dict(side='top', showline=True, ticks='outside', ticklen=7, tickvals=list(range(len(F_clusters))),
                  ticktext=F_clusters, showticklabels=True, tickangle=-90,
                  tickfont=dict(family=FONT, size=24, color=INK)),
         ykw=dict(showline=True, ticks='outside', ticklen=8, tickvals=list(range(len(G_modules))),
                  ticktext=G_modules, showticklabels=True, tickfont=dict(family=FONT, size=24, color=INK)))
gx, gy_, gc, gs = [], [], [], []
for r in range(len(G_modules)):
    for c in range(len(F_clusters)):
        gx.append(c)
        gy_.append(r)
        gc.append(G_expr[r][c])
        gs.append(pct_to_d(G_pct[r][c], 30))
traces.append(go.Scatter(
    x=gx, y=gy_, mode='markers', hoverinfo='skip', cliponaxis=False,
    marker=dict(size=gs, sizemode='diameter', color=gc, colorscale=JET, cmin=0, cmax=1, line=dict(width=0),
                showscale=True,
                colorbar=dict(orientation='h', x=497 / W, xanchor='center', y=1 - 2061 / H, yanchor='middle',
                              len=97, lenmode='pixels', thickness=32, thicknessmode='pixels', xpad=0, ypad=0,
                              outlinewidth=2.5, outlinecolor='#555555', tickvals=[0, 0.5, 1.0],
                              ticktext=['0.0', '0.5', '1.0'], ticks='outside', ticklen=6, tickcolor=INK, tickwidth=2,
                              tickfont=dict(family=FONT, size=21, color=INK))),
    **axG.kw()))
dendro(axG, [(0, 1, 2140), (2, 3, 2136), (4, 5, 2135), (6, 7, 2154), (8, 9, 2159), (12, 10, 2173), (13, 11, 2185)], 2131)
T(498, 1943, "mean.pct", size=21)
for xc, p in zip([460, 491, 526], F_legend_pct):
    d = pct_to_d(p, 30)
    circle(xc, 1990 - d / 2, d, '#a0a0a0')
    poly([(xc, 1993), (xc, 2000)], color=INK, width=2)
    T(xc, 2016, str(p), size=18)

# ============================ PANEL H ============================
axH = bar_axes(742, 1068, 1847, 2054, [-0.72, 7.7], 0.5, [0, 0.1, 0.2, 0.3, 0.4, 0.5], '{:.1f}', 0.7)
bar_panel(axH, H_TAM_C3_C5ar1_hi, GROUP_COLORS, 0.7)
T(867, 1772, "TAM_C3_C5ar1_hi", size=24)
T(667, 1948, "Cell Fraction", size=24, angle=-90)
legend_list(1091, 1810, 30.7, GROUPS, GROUP_COLORS, d=16, size=24, gap=17)
bracket([(axH, 1, 0.256), (axH, 1, 0.575), (axH, 5, 0.575), (axH, 5, 0.256)], "&lt;0.1", (axH, 3, 0.575), star=False)
bracket([(axH, 3, 0.47), (axH, 3, 0.53), (axH, 5, 0.53)], "**", (axH, 4, 0.53))

# ============================ PANEL I ============================
axI = bar_axes(149, 476, 2312, 2518, [-0.61, 7.69], 60, [0, 20, 40, 60], '{:g}', 0.68)
bar_panel(axI, I_ratio, GROUP_COLORS, 0.68)
T(77, 2420, "TAM_C1/C5ar1<sup>hi</sup><br>ratio", size=24, angle=-90)
legend_list(495, 2297, 30.6, GROUPS, GROUP_COLORS, d=17, size=24, gap=17)
bracket([(axI, 1, 30), (axI, 3, 30)])
bracket([(axI, 2, 30), (axI, 2, 63.5), (axI, 5, 63.5), (axI, 5, 59.7)], "**", (axI, 3.5, 63.5))
bracket([(axI, 5, 61.7), (axI, 7, 61.7), (axI, 7, 40.5)], "**", (axI, 6, 61.7))

# ============================ PANEL J ============================
axJ = Ax(802, 1039, 2239, 2533, [-0.71, 5.73], [0, 75],
         xkw=dict(showline=True, linewidth=3),
         ykw=gp_y([0, 20, 40, 60], '{:g}', size=24))
for i, (vals, col) in enumerate(zip(J_values, J_colors)):
    violin(axJ, i, vals, col, width=0.75, qcolor='white')
T(919, 2185, "MHC-II<sup>lo</sup>C5aR1<sup>hi</sup>", size=24)
T(723, 2375, "% of Macrophages", size=24, angle=-90)
legend_list(1091, 2226, 37, J_groups, J_colors, d=18, size=24, gap=17)
bracket([(axJ, 0, 24.5), (axJ, 0, 60.3), (axJ, 1, 60.3), (axJ, 1, 56)], "****", (axJ, 0.5, 60.3))
bracket([(axJ, 1, 56), (axJ, 1, 79.7)])
bracket([(axJ, 1, 66.4), (axJ, 2, 66.4), (axJ, 2, 20)], "****", (axJ, 1.5, 66.4))
bracket([(axJ, 1, 73), (axJ, 3, 73), (axJ, 3, 13)], "****", (axJ, 2, 73))
bracket([(axJ, 1, 79.7), (axJ, 4.5, 79.7), (axJ, 4.5, 59.2)], "**", (axJ, 2.75, 79.7))
bracket([(axJ, 4, 59.2), (axJ, 5, 59.2)])
bracket([(axJ, 3, 51.6), (axJ, 4.5, 51.6), (axJ, 4.5, 46)], "*", (axJ, 3.75, 51.6))
bracket([(axJ, 4, 46), (axJ, 5, 46)])

# ============================ FIGURE ============================
fig = go.Figure(data=traces)
fig.update_layout(width=W, height=H, autosize=False,
                  margin=dict(l=0, r=0, t=0, b=0, pad=0, autoexpand=False),
                  paper_bgcolor='white', plot_bgcolor='rgba(0,0,0,0)', showlegend=False,
                  barmode='overlay', violinmode='overlay',
                  font=dict(family=FONT, color=INK, size=22),
                  shapes=shapes, annotations=annots, **layout_axes)
fig.write_html("out.html", include_plotlyjs=True, full_html=True,
               config={'displayModeBar': False, 'staticPlot': True},
               post_script="document.body.style.margin='0px';")
